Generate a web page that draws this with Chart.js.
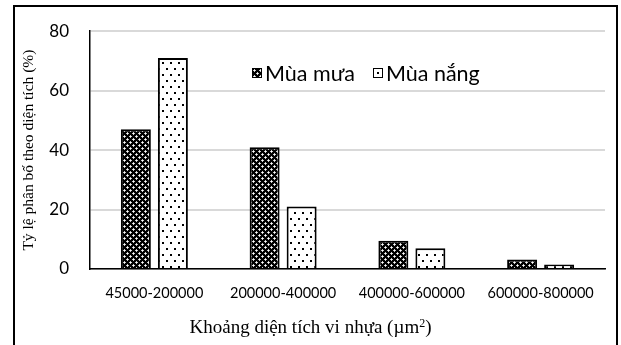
<!DOCTYPE html>
<html><head><meta charset="utf-8">
<script src="https://cdn.jsdelivr.net/npm/chart.js@4.4.1/dist/chart.umd.min.js"></script>
<style>
html,body{margin:0;padding:0;background:#fff;}
#wrap{position:relative;width:621px;height:345px;overflow:hidden;}
#frame{position:absolute;left:13px;top:5px;width:605px;height:400px;border:2px solid #000;box-sizing:border-box;}
#c{position:absolute;left:0;top:0;}
#legend{position:absolute;left:252px;top:60px;font-family:Lato,sans-serif;font-size:21.5px;display:flex;align-items:center;white-space:nowrap;color:#000;}
.sw{display:inline-block;width:10px;height:10px;box-sizing:border-box;border:1px solid #000;margin-right:3px;}
#xtitle{position:absolute;left:0;width:621px;top:316px;text-align:center;font-family:'Liberation Serif',serif;font-size:19px;line-height:22px;color:#000;}
#xtitle sup{font-size:12px;vertical-align:6px;line-height:0;}
</style></head>
<body>
<div id="wrap">
<div id="frame"></div>
<canvas id="c" width="621" height="345"></canvas>
<div id="legend"></div>
<div id="xtitle"></div>
</div>
<script>
const categories = ['45000-200000', '200000-400000', '400000-600000', '600000-800000'];
const seriesNames = ['Mùa mưa', 'Mùa nắng'];
const muaMua = [47, 41, 9.5, 3.2];
const muaNang = [71, 21, 7, 1.5];
const yTicks = [0, 20, 40, 60, 80];
const yTitle = 'Tỷ lệ phân bố theo diện tích (%)';
const xTitleMain = 'Khoảng diện tích vi nhựa (µm';
const xTitleSup = '2';
const xTitleEnd = ')';

function makeRainPattern() {
  const t = document.createElement('canvas');
  t.width = 6; t.height = 6;
  const g = t.getContext('2d');
  g.fillStyle = '#000'; g.fillRect(0, 0, 6, 6);
  g.fillStyle = '#c8c8c8';
  [[1,0],[0,1],[2,1],[1,2],[4,3],[3,4],[5,4],[4,5]].forEach(p => g.fillRect(p[0], p[1], 1, 1));
  g.fillStyle = '#fff';
  [[1,1],[4,4]].forEach(p => g.fillRect(p[0], p[1], 1, 1));
  return t;
}
function makeSunPattern() {
  const t = document.createElement('canvas');
  t.width = 8; t.height = 12;
  const g = t.getContext('2d');
  g.fillStyle = '#fff'; g.fillRect(0, 0, 8, 12);
  g.fillStyle = '#000';
  g.fillRect(2, 2, 2, 2);
  g.fillRect(6, 8, 2, 2);
  return t;
}
const rainTile = makeRainPattern();
const sunTile = makeSunPattern();
const ctx = document.getElementById('c').getContext('2d');
const rainPat = ctx.createPattern(rainTile, 'repeat');
const sunPat = ctx.createPattern(sunTile, 'repeat');

const leg = document.getElementById('legend');
seriesNames.forEach((n, i) => {
  const item = document.createElement('span');
  item.style.display = 'inline-flex'; item.style.alignItems = 'center';
  item.style.marginRight = i === 0 ? '18px' : '0';
  const sw = document.createElement('span');
  sw.className = 'sw';
  if (i === 0) {
    sw.style.backgroundImage = 'url(' + rainTile.toDataURL() + ')';
  } else {
    sw.style.background = '#fff';
    sw.style.position = 'relative';
    const d = document.createElement('span');
    d.style.cssText = 'position:absolute;left:3px;top:3px;width:2px;height:2px;background:#000;';
    sw.appendChild(d);
  }
  const tx = document.createElement('span');
  tx.textContent = n;
  item.appendChild(sw); item.appendChild(tx);
  leg.appendChild(item);
});

const xt = document.getElementById('xtitle');
xt.appendChild(document.createTextNode(xTitleMain));
const sup = document.createElement('sup'); sup.textContent = xTitleSup; xt.appendChild(sup);
xt.appendChild(document.createTextNode(xTitleEnd));

new Chart(ctx, {
  type: 'bar',
  data: {
    labels: categories,
    datasets: [
      { label: seriesNames[0], data: muaMua, backgroundColor: rainPat, borderColor: '#000', borderWidth: 2,
        barPercentage: 0.81, categoryPercentage: 0.575 },
      { label: seriesNames[1], data: muaNang, backgroundColor: sunPat, borderColor: '#000', borderWidth: 2,
        barPercentage: 0.81, categoryPercentage: 0.575 }
    ]
  },
  options: {
    responsive: false,
    animation: false,
    devicePixelRatio: 1,
    layout: { padding: { left: 14, right: 16, top: 24, bottom: 0 } },
    plugins: { legend: { display: false }, tooltip: { enabled: false } },
    scales: {
      x: {
        grid: { display: false, drawTicks: false },
        border: { color: '#000', width: 1.5 },
        ticks: { color: '#000', font: { family: 'Lato', size: 14.5 }, padding: 16, maxRotation: 0 },
        title: { display: false },
        afterFit: s => { s.height = 76; }
      },
      y: {
        min: 0, max: 80,
        afterBuildTicks: s => { s.ticks = yTicks.map(v => ({ value: v })); },
        grid: { color: '#d9d9d9', lineWidth: 2, drawTicks: false },
        border: { color: '#000', width: 1.5 },
        ticks: { color: '#000', font: { family: 'Lato', size: 17 }, padding: 21 },
        title: { display: true, text: yTitle, color: '#000', font: { family: 'Liberation Serif', size: 15.5 }, padding: { top: 6, bottom: 0 } },
        afterFit: s => { s.width = 76; }
      }
    }
  }
});
</script>
</body></html>
